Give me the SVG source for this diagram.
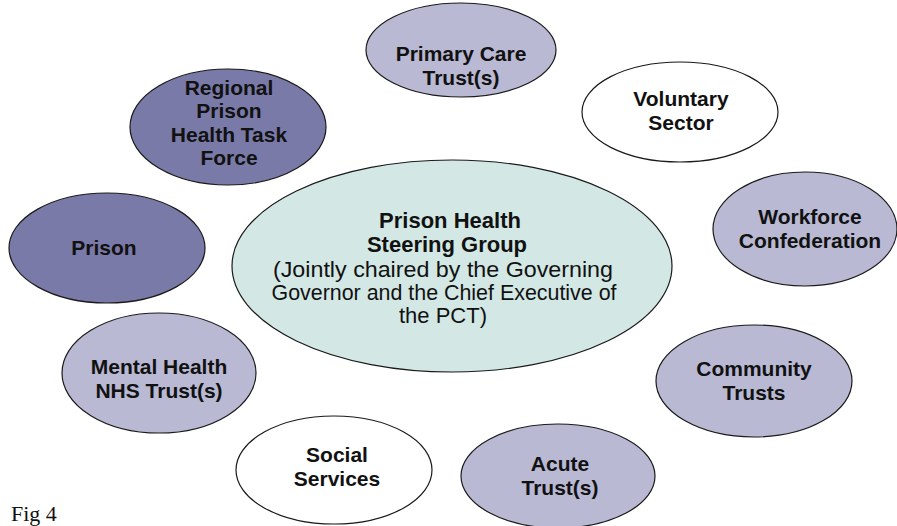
<svg xmlns="http://www.w3.org/2000/svg" width="897" height="526" viewBox="0 0 897 526">
<style>
.e{stroke:#1a1a1a;stroke-width:1.2}
.lav{fill:#b9b9d4}
.dark{fill:#7a7aa8}
.wh{fill:#ffffff}
.ctr{fill:#d3e8e4}
text{font-family:"Liberation Sans",Arial,sans-serif;font-size:21px;text-anchor:middle;fill:#111}
.b{font-weight:bold}
.cb{font-size:22px}
.cr{font-size:22px}
.cap{font-family:"Liberation Serif","Times New Roman",serif;font-size:22px;text-anchor:start}
</style>
<rect width="897" height="526" fill="#ffffff"/>
<g id="connectors"/>
<g id="primary-care">
<ellipse class="e lav" cx="461" cy="50" rx="95" ry="47"/>
<text class="b" x="461" y="61">Primary Care</text>
<text class="b" x="461" y="85">Trust(s)</text>
</g>
<g id="regional">
<ellipse class="e dark" cx="228" cy="127" rx="98" ry="58"/>
<text class="b" x="229" y="95">Regional</text>
<text class="b" x="229" y="118">Prison</text>
<text class="b" x="229" y="142">Health Task</text>
<text class="b" x="229" y="165">Force</text>
</g>
<g id="voluntary">
<ellipse class="e wh" cx="680" cy="112" rx="98" ry="50"/>
<text class="b" x="681" y="106">Voluntary</text>
<text class="b" x="681" y="130">Sector</text>
</g>
<g id="workforce">
<ellipse class="e lav" cx="805" cy="229" rx="92" ry="57"/>
<text class="b" x="810" y="224">Workforce</text>
<text class="b" x="810" y="248">Confederation</text>
</g>
<g id="prison">
<ellipse class="e dark" cx="107" cy="248" rx="98" ry="55"/>
<text class="b" x="104" y="255">Prison</text>
</g>
<g id="steering">
<ellipse class="e ctr" cx="452" cy="266" rx="220" ry="106"/>
<text class="b cb" x="450" y="228">Prison Health</text>
<text class="b cb" x="447" y="252">Steering Group</text>
<text class="cr" x="443" y="277" textLength="340" lengthAdjust="spacingAndGlyphs">(Jointly chaired by the Governing</text>
<text class="cr" x="444" y="300" textLength="345" lengthAdjust="spacingAndGlyphs">Governor and the Chief Executive of</text>
<text class="cr" x="443" y="323">the PCT)</text>
</g>
<g id="mental-health">
<ellipse class="e lav" cx="159" cy="373" rx="97" ry="60"/>
<text class="b" x="159" y="374">Mental Health</text>
<text class="b" x="159" y="398">NHS Trust(s)</text>
</g>
<g id="community">
<ellipse class="e lav" cx="754" cy="381" rx="98" ry="56"/>
<text class="b" x="754" y="376">Community</text>
<text class="b" x="754" y="400">Trusts</text>
</g>
<g id="social">
<ellipse class="e wh" cx="334" cy="470" rx="98" ry="54"/>
<text class="b" x="337" y="462">Social</text>
<text class="b" x="337" y="486">Services</text>
</g>
<g id="acute">
<ellipse class="e lav" cx="558" cy="476" rx="97" ry="52"/>
<text class="b" x="560" y="471">Acute</text>
<text class="b" x="560" y="495">Trust(s)</text>
</g>
<text class="cap" x="11" y="521">Fig 4</text>
</svg>
